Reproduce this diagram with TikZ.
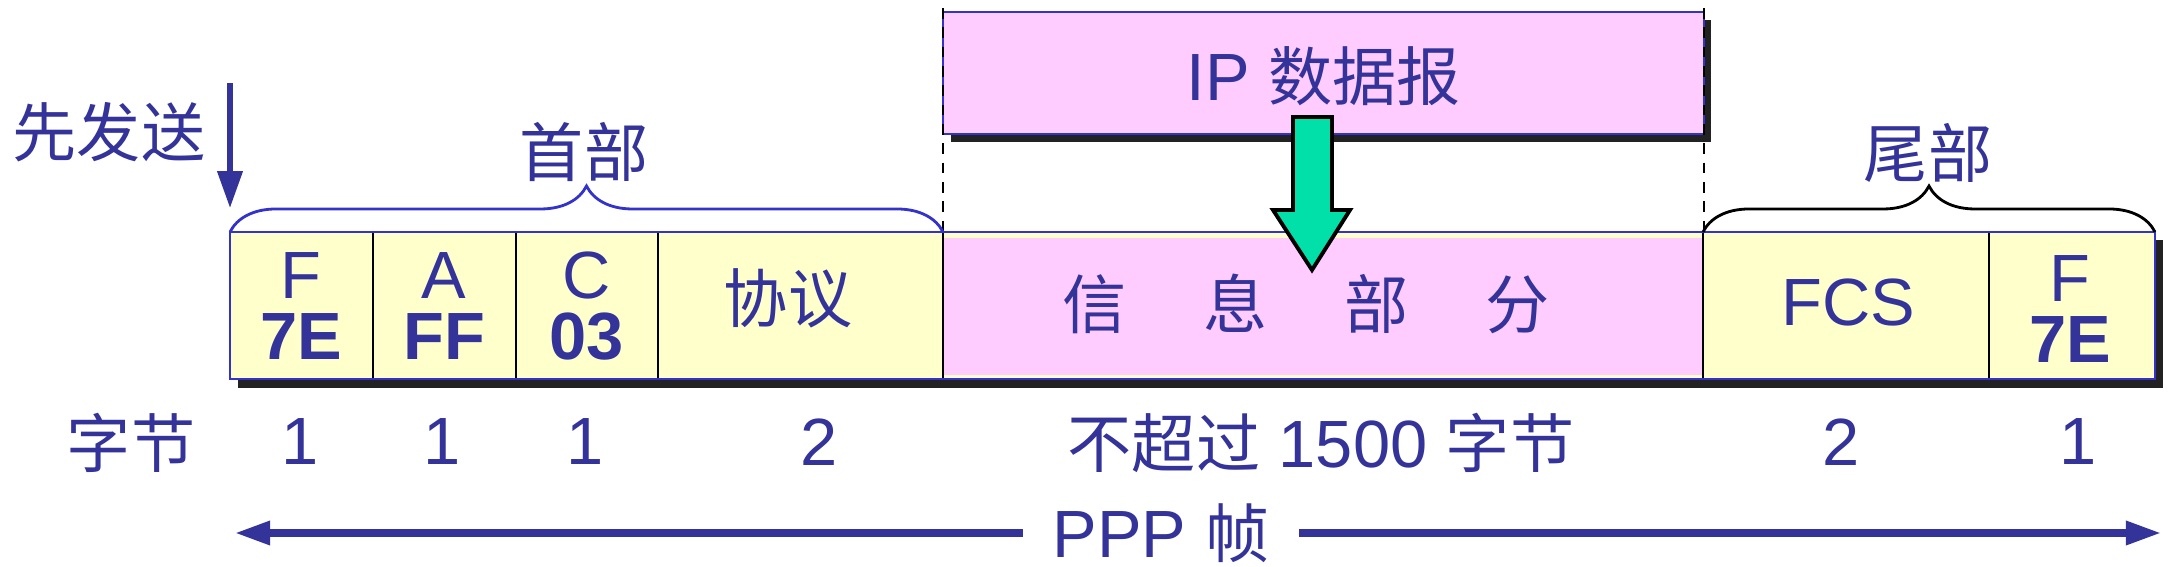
\documentclass[tikz,border=0pt]{standalone}
\usepackage{fontspec}
\setmainfont{Liberation Sans}
\newfontfamily\cjk[Scale=0.96]{Noto Sans CJK SC}
\usetikzlibrary{arrows.meta,decorations.pathreplacing}
\definecolor{ink}{RGB}{51,51,153}
\definecolor{rim}{RGB}{51,51,204}
\definecolor{cellyellow}{RGB}{255,255,204}
\definecolor{infopink}{RGB}{255,204,255}
\definecolor{pushgreen}{RGB}{0,224,168}
\definecolor{shadowgray}{RGB}{34,34,34}
\tikzset{
  lbl/.style={text=ink,font=\fontsize{19}{17.5}\selectfont,inner sep=0pt,align=center},
  rimline/.style={draw=rim,line width=0.8pt},
  sep/.style={draw=black,line width=0.8pt},
  guide/.style={draw=black,line width=0.8pt,dash pattern=on 3pt off 2.5pt},
  brc/.style={line width=0.8pt,decorate,decoration={brace,amplitude=0.46cm}},
  bigarr/.style={draw=ink,line width=2pt,-{Triangle[length=10pt,width=6.5pt]}}
}
\begin{document}
\begin{tikzpicture}[x=0.01cm,y=-0.01cm]
\useasboundingbox (0,0) rectangle (2178,567);
% shadows
\fill[shadowgray] (238,240) rectangle (2163,388);
\fill[shadowgray] (951,20) rectangle (1711,142);
% the frame
\fill[cellyellow] (230,232) rectangle (2155,379);
\fill[infopink] (943,238) rectangle (1703,375);
\foreach \x in {373,516,658,943,1703,1989}
  \draw[sep] (\x,232) -- (\x,379);
\draw[rimline] (230,232) rectangle (2155,379);
% ip datagram
\draw[rimline,fill=infopink] (943,12) rectangle (1704,134);
\coordinate (gl0) at (943,8);  \coordinate (gl1) at (943,232);
\coordinate (gr0) at (1704,8); \coordinate (gr1) at (1704,232);
\draw[guide] (gl0) -- (gl1);
\draw[guide] (gr0) -- (gr1);
\node[lbl] (ip) at (1324,76) {IP {\cjk 数据报}};
\filldraw[fill=pushgreen,draw=black,line width=1.1pt,line join=miter]
  (1293,117) -- (1332,117) -- (1332,210) -- (1350,210) -- (1312,270)
  -- (1273,210) -- (1293,210) -- cycle;
% braces
\draw[brc,draw=rim] (230,232) -- (943,232);
\draw[brc,draw=black] (1703,232) -- (2155,232);
\node[lbl] (head) at (584,152) {\cjk 首部};
\node[lbl] (tail) at (1928,153) {\cjk 尾部};
\node[lbl] (send) at (109,132) {\cjk 先发送};
\coordinate (s0) at (230,83);
\coordinate (s1) at (230,208);
\draw[draw=ink,line width=1.5pt,-{Triangle[length=10.5pt,width=7pt]}] (s0) -- (s1);
% fields
\node[lbl] (flag1) at (301,306) {F\\\textbf{7E}};
\node[lbl] (addr) at (444,306) {A\\\textbf{FF}};
\node[lbl] (ctrl) at (587,306) {C\\\textbf{03}};
\node[lbl] (proto) at (788,298) {\cjk 协议};
\node[lbl] (info) at (1306,304) {\cjk 信\hspace{0.77cm}息\hspace{0.77cm}部\hspace{0.77cm}分};
\node[lbl] (fcs) at (1848,302) {FCS};
\node[lbl] (flag2) at (2070,309) {F\\\textbf{7E}};
% byte counts
\node[lbl] (bytes) at (131,443) {\cjk 字节};
\node[lbl] (n1) at (300,442) {1};
\node[lbl] (n2) at (442,442) {1};
\node[lbl] (n3) at (585,442) {1};
\node[lbl] (n4) at (819,442) {2};
\node[lbl] (n5) at (1321,443) {{\cjk 不超过} 1500 {\cjk 字节}};
\node[lbl] (n6) at (1841,442) {2};
\node[lbl] (n7) at (2078,442) {1};
% ppp frame
\node[lbl,inner xsep=0.295cm] (ppp) at (1161,533) {PPP {\cjk 帧}};
\coordinate (pl) at (235,533);
\coordinate (pr) at (2161,533);
\draw[bigarr] (ppp) -- (pl);
\draw[bigarr] (ppp) -- (pr);
\end{tikzpicture}
\end{document}
